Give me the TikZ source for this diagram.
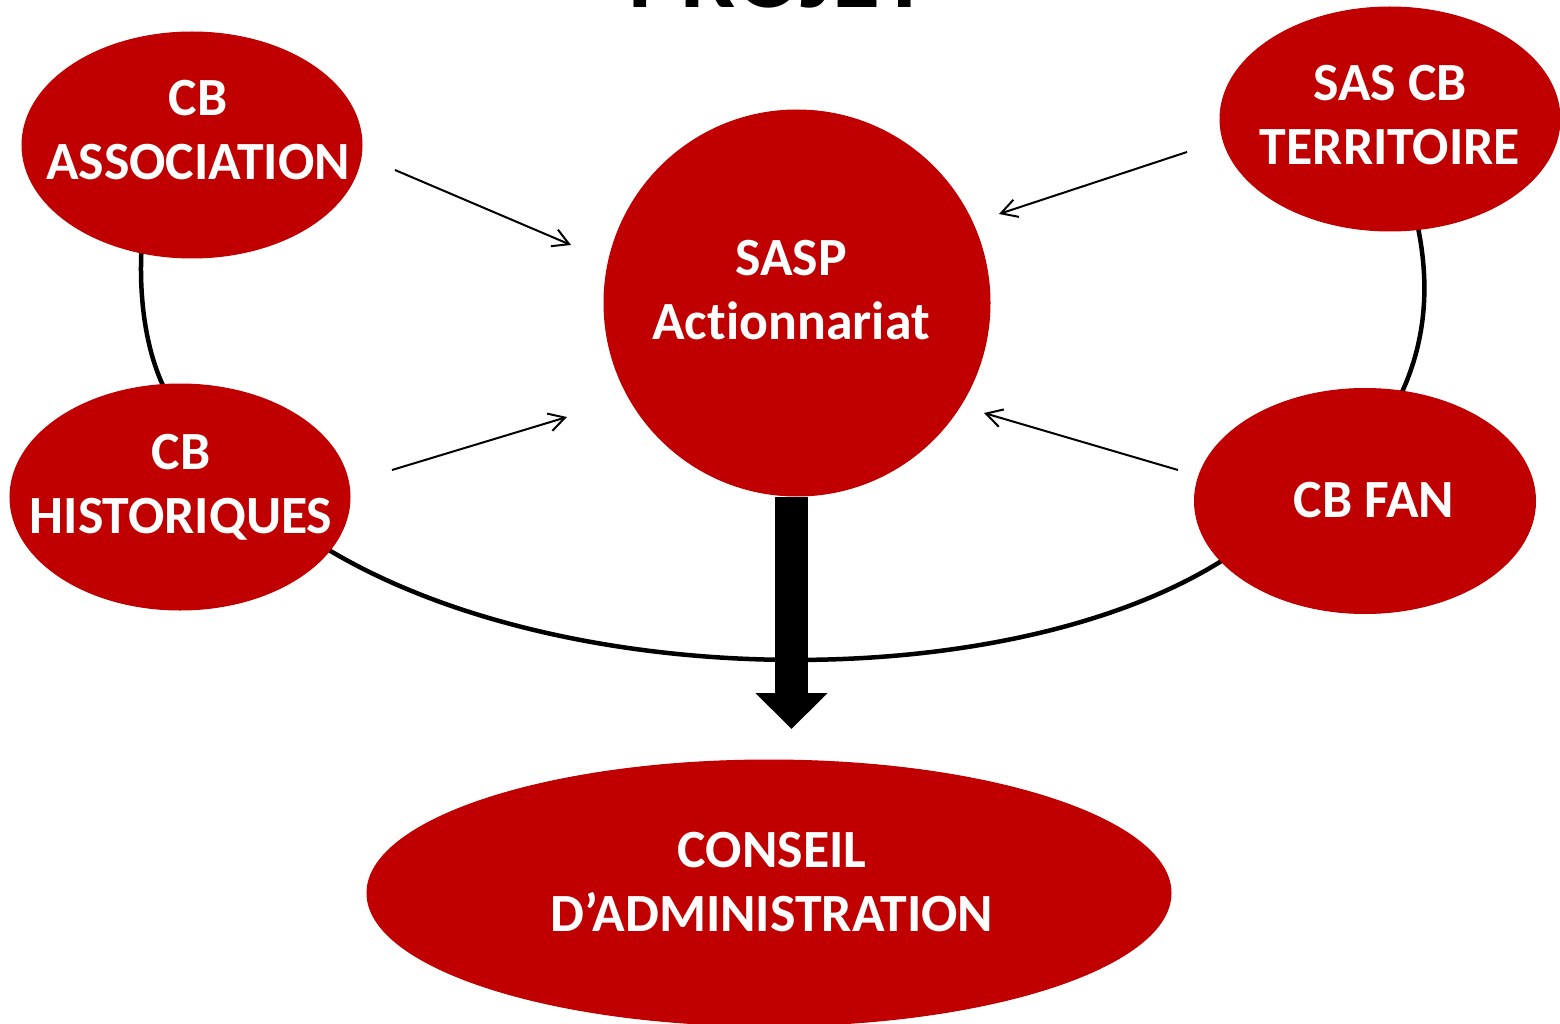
\documentclass[tikz,border=0pt]{standalone}
\usepackage{fontspec}
\setmainfont{Carlito}[Ligatures={NoCommon,NoRequired}]
\usetikzlibrary{arrows.meta,shapes.geometric,backgrounds}
\definecolor{boxred}{RGB}{192,0,0}
\tikzset{
  blob/.style={ellipse,fill=boxred,draw=boxred,line width=1pt,inner sep=0pt},
  label/.style={text=white,font=\fontsize{53.8}{64}\selectfont\bfseries,align=center,inner sep=0pt},
  link/.style={line width=4.5pt,black},
  feed/.style={line width=2pt,-{Straight Barb[length=16pt,width=18pt,line width=2pt]}},
  bigarrow/.style={line width=33pt,-{Triangle[length=36pt,width=70pt]}}
}
\begin{document}
\begin{tikzpicture}[x=1pt,y=-1pt]
\useasboundingbox (0,0) rectangle (1560,1024);
% title (cut off at the top, as in the original)
\node[anchor=base,inner sep=0pt,font=\fontsize{98}{110}\selectfont\bfseries] (title) at (779,7.5) {PROJET};
% shapes
\node[blob,minimum width=340pt,minimum height=226pt] (assoc) at (192,145) {};
\node[blob,minimum width=340pt,minimum height=224pt] (terr) at (1390,119) {};
\node[blob,circle,minimum size=386pt] (sasp) at (797,303) {};
\node[blob,minimum width=340pt,minimum height=226pt] (hist) at (180,497) {};
\node[blob,minimum width=341pt,minimum height=225pt] (fan) at (1365,501) {};
\node[blob,minimum width=804pt,minimum height=266pt] (ca) at (769,893) {};
% texts
\node[label] (tassoc) at (198,130) {CB\\ASSOCIATION};
\node[label] (tterr) at (1390,115) {SAS CB\\TERRITOIRE};
\node[label] (tsasp) at (791,290) {SASP\\Actionnariat};
\node[label] (thist) at (181,487) {CB\\HISTORIQUES};
\node[label] (tfan) at (1374,500) {CB FAN};
\node[label] (tca) at (772,882.5) {CONSEIL\\D’ADMINISTRATION};
% links behind the shapes
\begin{scope}[on background layer]
\fill[white] (0,0) rectangle (1560,1024);
\draw[link] ([yshift=4pt]assoc.245) .. controls (139,300) and (146,350) .. ([yshift=-4pt]hist.98);
\draw[link] ([yshift=4pt]terr.284) .. controls (1431,290) and (1424,345) .. ([yshift=-4pt]fan.72);
\draw[link] ([xshift=-4pt]hist.341) .. controls (570,695) and (1010,695) .. ([xshift=4pt]fan.202);
\end{scope}
% thin arrows towards the SASP
\coordinate (f1s) at (395,170); \coordinate (f1e) at (571,245);
\coordinate (f2s) at (392,470); \coordinate (f2e) at (567,417);
\coordinate (f3s) at (1187,152); \coordinate (f3e) at (999,214);
\coordinate (f4s) at (1178,470); \coordinate (f4e) at (984,413);
\draw[feed] (f1s) -- (f1e);
\draw[feed] (f2s) -- (f2e);
\draw[feed] (f3s) -- (f3e);
\draw[feed] (f4s) -- (f4e);
% big arrow towards the board
\coordinate (bigtip) at (791.5,729);
\draw[bigarrow] (sasp.south -| bigtip) -- (bigtip);
\end{tikzpicture}
\end{document}
